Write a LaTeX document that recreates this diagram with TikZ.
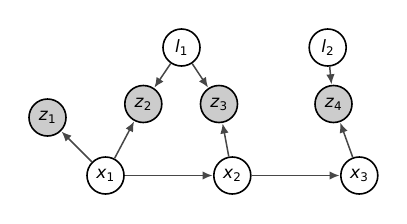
\documentclass[tikz,border=0pt]{standalone}
\usepackage{fontspec}
\setmainfont{DejaVu Sans}
\usetikzlibrary{arrows.meta}

\newcommand{\var}[2]{\textit{#1}\textsubscript{#2}}

\begin{document}
\begin{tikzpicture}[
	x=1pt, y=-1pt,
	latent/.style={
		circle,
		draw=black,
		fill=white,
		line width=1.6pt,
		minimum size=37pt,
		inner sep=0pt,
		font=\fontsize{17}{17}\selectfont
	},
	observed/.style={
		latent,
		fill=black!20
	},
	arrow/.style={-{Latex[length=10pt, width=8.5pt]}, line width=1.5pt, black!72, shorten >=0.5pt}
]
	\useasboundingbox (0,0) rectangle (407,223);

	\node[latent] (l1) at (181.5,47.5) {\var{l}{1}};
	\node[latent] (l2) at (327.7,47.5) {\var{l}{2}};

	\node[observed] (z1) at (47.5,117.5) {\var{z}{1}};
	\node[observed] (z2) at (143.3,104) {\var{z}{2}};
	\node[observed] (z3) at (219,104) {\var{z}{3}};
	\node[observed] (z4) at (333.5,104) {\var{z}{4}};

	\node[latent] (x1) at (105.5,175.5) {\var{x}{1}};
	\node[latent] (x2) at (232.3,175.5) {\var{x}{2}};
	\node[latent] (x3) at (359.3,175.5) {\var{x}{3}};

	\draw[arrow] (l1) -- (z2);
	\draw[arrow] (l1) -- (z3);
	\draw[arrow] (l2) -- (z4);
	\draw[arrow] (x1) -- (z1);
	\draw[arrow] (x1) -- (z2);
	\draw[arrow] (x2) -- (z3);
	\draw[arrow] (x3) -- (z4);
	\draw[arrow] (x1) -- (x2);
	\draw[arrow] (x2) -- (x3);

\end{tikzpicture}
\end{document}
